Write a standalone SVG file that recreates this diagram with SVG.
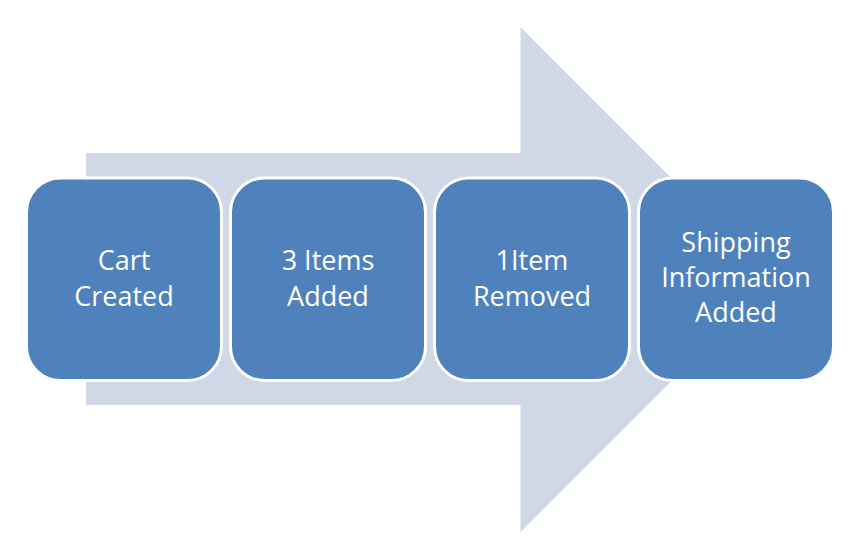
<svg xmlns="http://www.w3.org/2000/svg" width="860" height="560" viewBox="0 0 860 560">
<style>
.box{fill:#4F81BD;stroke:#FFFFFF;stroke-width:3}
.lbl{font-family:"Open Sans","Liberation Sans",sans-serif;font-size:27px;fill:#FFFFFF;text-anchor:middle}
</style>
<rect width="860" height="560" fill="#FFFFFF"/>
<g id="arrow">
<polygon points="86,153 520.5,153 520.5,27 773,279.5 520.5,532 520.5,405 86,405" fill="#D0D8E8"/>
</g>
<g id="node1">
<rect class="box" x="26.5" y="178" width="195" height="202.5" rx="34"/>
<text class="lbl" x="124" y="270">Cart</text>
<text class="lbl" x="124" y="305.5">Created</text>
</g>
<g id="node2">
<rect class="box" x="230.5" y="178" width="195" height="202.5" rx="34"/>
<text class="lbl" x="328" y="270">3 Items</text>
<text class="lbl" x="328" y="305.5">Added</text>
</g>
<g id="node3">
<rect class="box" x="434.5" y="178" width="195" height="202.5" rx="34"/>
<text class="lbl" x="532" y="270">1Item</text>
<text class="lbl" x="532" y="305.5">Removed</text>
</g>
<g id="node4">
<rect class="box" x="638.5" y="178" width="195" height="202.5" rx="34"/>
<text class="lbl" x="736" y="252">Shipping</text>
<text class="lbl" x="736" y="287">Information</text>
<text class="lbl" x="736" y="322">Added</text>
</g>
<g id="connectors"></g>
</svg>
